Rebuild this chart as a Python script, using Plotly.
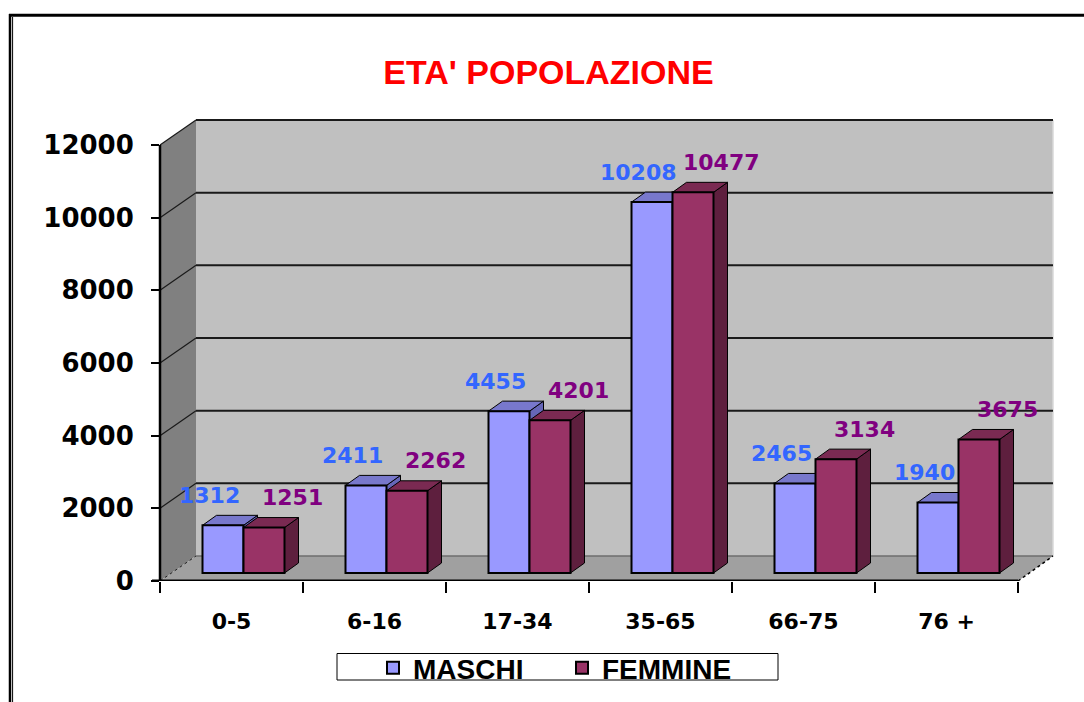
import plotly.graph_objects as go

# ---------------- data ----------------
categories = ["0-5", "6-16", "17-34", "35-65", "66-75", "76 +"]
maschi = [1312, 2411, 4455, 10208, 2465, 1940]
femmine = [1251, 2262, 4201, 10477, 3134, 3675]
y_tick_values = [0, 2000, 4000, 6000, 8000, 10000, 12000]
series_names = ["MASCHI", "FEMMINE"]
chart_title = "ETA' POPOLAZIONE"

# ---------------- styles ----------------
FRONT_COLORS = ["#9999FF", "#993366"]
TOP_COLORS = ["#7878CC", "#7A2A52"]
SIDE_COLORS = ["#6666B8", "#5E1F3E"]
LABEL_COLORS = ["#3366FF", "#800080"]
LABEL_XSHIFT = [-14, 28]
LABEL_YSHIFT = 30
NUM_FONT = "DejaVu Sans"

# ---------------- geometry (canvas pixels) ----------------
W, H = 1084, 702
PX_L, PX_R = 160, 1053      # plot area left / right
PX_T, PX_B = 110, 581       # plot area top / bottom
BACK_L = 196                # back wall left edge
BACK_BASE = 556             # back wall base line
BAR_BASE = 573              # base line of the bars
FRONT_BASE = 581            # front floor edge
FRONT_R = 1018              # right end of front floor edge
PPU = 436 / 12000           # pixels per unit
CAT_PX = 143                # pixels per category
BAR_W_PX = 41
BAR_C0 = 243.5              # centre of first category in bar plane
DEPTH_DX, DEPTH_DY = 14, 10


def fx(px):
    return px / W


def fy(py):
    return 1 - py / H


y_lo = -(PX_B - BAR_BASE) / PPU
y_hi = (BAR_BASE - PX_T) / PPU
front_shift = (FRONT_BASE - BAR_BASE) / PPU
back_shift = (BAR_BASE - BACK_BASE) / PPU
x_lo = (PX_L - BAR_C0) / CAT_PX
x_hi = (PX_R - BAR_C0) / CAT_PX
front_c0 = PX_L + CAT_PX / 2
x2_lo = (PX_L - front_c0) / CAT_PX
x2_hi = (PX_R - front_c0) / CAT_PX
bw = BAR_W_PX / CAT_PX
ddx = DEPTH_DX / CAT_PX
ddy = DEPTH_DY / PPU
top_val = max(y_tick_values)

idx = list(range(len(categories)))
series = [maschi, femmine]

fig = go.Figure()

# hidden trace to establish the front category axis
fig.add_trace(go.Scatter(x=categories, y=[0] * len(categories), xaxis="x2", yaxis="y2",
                         mode="markers", marker=dict(opacity=0), showlegend=False,
                         hoverinfo="skip"))

for s, (name, vals) in enumerate(zip(series_names, series)):
    fig.add_trace(go.Bar(
        x=idx, y=vals, name=name, width=bw, offset=-bw if s == 0 else 0,
        marker=dict(color=FRONT_COLORS[s], line=dict(color="black", width=2)),
        customdata=categories, hovertemplate="%{customdata}: %{y}<extra>" + name + "</extra>",
    ))

shapes = []
# outer frame
shapes.append(dict(type="line", xref="paper", yref="paper", x0=fx(9), x1=fx(1090),
                   y0=fy(15.3), y1=fy(15.3), line=dict(color="black", width=3), layer="below"))
shapes.append(dict(type="line", xref="paper", yref="paper", x0=fx(10), x1=fx(10),
                   y0=fy(14), y1=fy(710), line=dict(color="black", width=2.5), layer="below"))
shapes.append(dict(type="line", xref="paper", yref="paper", x0=fx(12.6), x1=fx(12.6),
                   y0=fy(17), y1=fy(710), line=dict(color="black", width=1), layer="below"))

# side wall
shapes.append(dict(type="path", xref="paper", yref="y", layer="below",
                   path=f"M{fx(PX_L)},{-front_shift} L{fx(PX_L)},{top_val - front_shift} "
                        f"L{fx(BACK_L)},{top_val + back_shift} L{fx(BACK_L)},{back_shift} Z",
                   fillcolor="#808080", line=dict(width=0)))
# back wall
shapes.append(dict(type="rect", xref="paper", yref="y", layer="below",
                   x0=fx(BACK_L), x1=fx(PX_R), y0=back_shift, y1=top_val + back_shift,
                   fillcolor="#C0C0C0", line=dict(width=0)))
# floor
shapes.append(dict(type="path", xref="paper", yref="y", layer="below",
                   path=f"M{fx(PX_L)},{-front_shift} L{fx(FRONT_R)},{-front_shift} "
                        f"L{fx(PX_R)},{back_shift} L{fx(BACK_L)},{back_shift} Z",
                   fillcolor="#A0A0A0", line=dict(width=0)))
# back wall right edge
shapes.append(dict(type="line", xref="paper", yref="y", layer="below",
                   x0=fx(PX_R), x1=fx(PX_R), y0=back_shift, y1=top_val + back_shift,
                   line=dict(color="#D8D8D8", width=1.5)))
# gridlines
for v in y_tick_values:
    if v == 0:
        shapes.append(dict(type="line", xref="paper", yref="y", layer="below",
                           x0=fx(BACK_L), x1=fx(PX_R), y0=back_shift, y1=back_shift,
                           line=dict(color="#6E6E6E", width=1.5)))
        shapes.append(dict(type="line", xref="paper", yref="y", layer="below",
                           x0=fx(PX_L), x1=fx(BACK_L), y0=-front_shift, y1=back_shift,
                           line=dict(color="#202020", width=1, dash="dot")))
        continue
    shapes.append(dict(type="line", xref="paper", yref="y", layer="below",
                       x0=fx(BACK_L), x1=fx(PX_R), y0=v + back_shift, y1=v + back_shift,
                       line=dict(color="#1A1A1A", width=2)))
    shapes.append(dict(type="line", xref="paper", yref="y", layer="below",
                       x0=fx(PX_L), x1=fx(BACK_L), y0=v - front_shift, y1=v + back_shift,
                       line=dict(color="#1A1A1A", width=1.2)))
# floor right edge and front edge, vertical axis line
shapes.append(dict(type="line", xref="paper", yref="y", layer="below",
                   x0=fx(FRONT_R), x1=fx(PX_R), y0=-front_shift, y1=back_shift,
                   line=dict(color="black", width=1.5, dash="dot")))
shapes.append(dict(type="line", xref="paper", yref="y", layer="below",
                   x0=fx(152), x1=fx(FRONT_R), y0=-front_shift, y1=-front_shift,
                   line=dict(color="black", width=3)))
shapes.append(dict(type="line", xref="paper", yref="y", layer="below",
                   x0=fx(PX_L), x1=fx(PX_L), y0=-front_shift, y1=top_val - front_shift,
                   line=dict(color="black", width=2.5)))

# 3D faces of the bars (from data)
for k in idx:
    for s, vals in enumerate(series):
        v = vals[k]
        xl = k - bw if s == 0 else k
        xr = xl + bw
        shapes.append(dict(type="path", xref="x", yref="y", layer="below",
                           path=f"M{xr},0 L{xr + ddx},{ddy} L{xr + ddx},{v + ddy} L{xr},{v} Z",
                           fillcolor=SIDE_COLORS[s], line=dict(color="black", width=1)))
        shapes.append(dict(type="path", xref="x", yref="y", layer="below",
                           path=f"M{xl},{v} L{xl + ddx},{v + ddy} L{xr + ddx},{v + ddy} L{xr},{v} Z",
                           fillcolor=TOP_COLORS[s], line=dict(color="black", width=1)))

# legend frame
shapes.append(dict(type="rect", xref="paper", yref="paper", layer="below",
                   x0=fx(337), x1=fx(778), y0=fy(653.5), y1=fy(680),
                   fillcolor="white", line=dict(color="black", width=1)))

annotations = []
for s, vals in enumerate(series):
    for k in idx:
        annotations.append(dict(
            x=k - bw / 2 if s == 0 else k + bw / 2, y=vals[k], xref="x", yref="y",
            text=str(vals[k]), showarrow=False, xshift=LABEL_XSHIFT[s], yshift=LABEL_YSHIFT,
            font=dict(family=NUM_FONT, size=22, color=LABEL_COLORS[s], weight="bold"),
        ))

fig.update_layout(
    width=W, height=H,
    margin=dict(l=0, r=0, t=0, b=0, autoexpand=False),
    paper_bgcolor="white", plot_bgcolor="rgba(0,0,0,0)",
    barmode="overlay",
    showlegend=True,
    title=dict(text=chart_title, x=548.5 / W, xanchor="center", y=fy(72), yanchor="middle",
               xref="paper", yref="paper",
               font=dict(family="Liberation Sans, Arial", size=34,
                         color="#FF0000", weight="bold")),
    xaxis=dict(domain=[fx(PX_L), fx(PX_R)], range=[x_lo, x_hi], visible=False,
               fixedrange=True, automargin=False),
    yaxis=dict(domain=[fy(PX_B), fy(PX_T)], range=[y_lo, y_hi], visible=False,
               fixedrange=True, automargin=False),
    xaxis2=dict(domain=[fx(PX_L), fx(PX_R)], overlaying="x", anchor="y", type="category",
                categoryorder="array", categoryarray=categories, range=[x2_lo, x2_hi],
                tickson="boundaries", ticks="outside", ticklen=11, tickwidth=2, tickcolor="black",
                showline=False, showgrid=False, zeroline=False, ticklabelstandoff=25,
                automargin=False, fixedrange=True,
                tickfont=dict(family=NUM_FONT, size=22, color="black", weight="bold")),
    yaxis2=dict(domain=[fy(PX_B), fy(PX_T)], overlaying="y", anchor="x", side="left",
                range=[0, (PX_B - PX_T) / PPU], tickvals=y_tick_values, tickformat="d",
                ticks="outside", ticklen=8, tickwidth=2, tickcolor="black",
                showline=False, showgrid=False, zeroline=False, ticklabelstandoff=12,
                automargin=False, fixedrange=True,
                tickfont=dict(family=NUM_FONT, size=26, color="black", weight="bold")),
    legend=dict(orientation="h", x=fx(373), xanchor="left", y=fy(668), yanchor="middle",
                bgcolor="rgba(0,0,0,0)", borderwidth=0, entrywidth=144,
                font=dict(family="Liberation Sans, Arial", size=28, color="black", weight="bold")),
    shapes=shapes,
    annotations=annotations,
)

fig.write_html("out.html", config={"displayModeBar": False},
               post_script="document.body.style.margin='0';document.body.style.overflow='hidden';")
